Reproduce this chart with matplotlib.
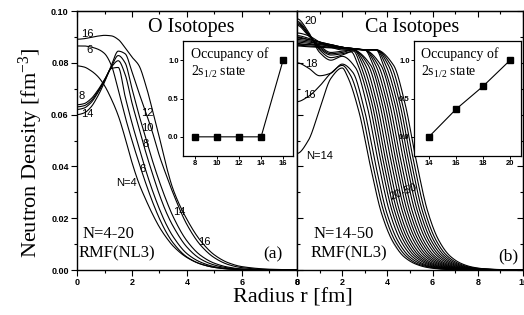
import numpy as np
import matplotlib
matplotlib.use("Agg")
import matplotlib.pyplot as plt
from matplotlib.ticker import MultipleLocator, FormatStrFormatter

plt.rcParams['font.family'] = ['Liberation Serif', 'DejaVu Serif']
plt.rcParams['mathtext.fontset'] = 'custom'
plt.rcParams['mathtext.rm'] = 'Liberation Serif'
plt.rcParams['mathtext.it'] = 'Liberation Serif:italic'

# ---------------- O isotopes (panel a) ----------------
o_r = [0, 0.25, 0.5, 0.75, 1.0, 1.25, 1.5, 1.75, 2.0, 2.25, 2.5, 2.75, 3.0, 3.25, 3.5,
       4.0, 4.5, 5.0, 5.5, 6.0, 7.0, 8.0]
o_N = [4, 6, 8, 10, 12, 14, 16]
o_rho4 = [0.0788, 0.0784, 0.0770, 0.0748, 0.0712, 0.0660, 0.0596, 0.0510, 0.0415, 0.0335, 0.0272, 0.0215, 0.0165, 0.0125, 0.0092,
          0.0048, 0.0023, 0.0010, 0.0004, 0.00015, 0.00002, 0.0]
o_rho6 = [0.0865, 0.0865, 0.0861, 0.0853, 0.0836, 0.0790, 0.0695, 0.0592, 0.0500, 0.0415, 0.0335, 0.0262, 0.0198, 0.0145, 0.0104,
          0.0050, 0.0023, 0.0010, 0.0004, 0.00015, 0.00002, 0.0]
o_rho8 = [0.0638, 0.0642, 0.0660, 0.0693, 0.0735, 0.0778, 0.0782, 0.0670, 0.0567, 0.0475, 0.0385, 0.0305, 0.0235, 0.0175, 0.0128,
          0.0063, 0.0030, 0.0013, 0.0005, 0.0002, 0.00003, 0.0]
o_rho10 = [0.0630, 0.0634, 0.0652, 0.0688, 0.0733, 0.0783, 0.0808, 0.0755, 0.0645, 0.0550, 0.0455, 0.0370, 0.0290, 0.0222, 0.0168,
           0.0088, 0.0042, 0.0019, 0.0008, 0.0003, 0.00005, 0.0]
o_rho12 = [0.0620, 0.0625, 0.0645, 0.0683, 0.0730, 0.0785, 0.0828, 0.0800, 0.0700, 0.0600, 0.0510, 0.0420, 0.0340, 0.0268, 0.0205,
           0.0112, 0.0056, 0.0026, 0.0011, 0.0004, 0.00006, 0.0]
o_rho14 = [0.0600, 0.0606, 0.0628, 0.0670, 0.0725, 0.0790, 0.0845, 0.0835, 0.0765, 0.0685, 0.0610, 0.0530, 0.0440, 0.0365, 0.0295,
           0.0175, 0.0095, 0.0047, 0.0021, 0.0009, 0.00015, 0.0]
o_rho16 = [0.0891, 0.0893, 0.0898, 0.0903, 0.0906, 0.0904, 0.0890, 0.0858, 0.0822, 0.0790, 0.0714, 0.0615, 0.0510, 0.0400, 0.0310,
           0.0195, 0.0112, 0.0058, 0.0028, 0.0013, 0.0003, 0.00005]
o_rho = [o_rho4, o_rho6, o_rho8, o_rho10, o_rho12, o_rho14, o_rho16]

o_occ_N = [8, 10, 12, 14, 16]
o_occ = [0.0, 0.0, 0.0, 0.0, 1.0]

o_labels = ['16', '6', '8', '14', '12', '10', '8', '6', 'N=4', '14', '16']
o_label_r = [0.38, 0.45, 0.16, 0.38, 2.57, 2.57, 2.48, 2.37, 1.81, 3.73, 4.64]
o_label_rho = [0.0910, 0.0848, 0.0670, 0.0604, 0.0608, 0.0550, 0.0485, 0.0390, 0.0337, 0.0225, 0.0110]

# ---------------- Ca isotopes (panel b) ----------------
ca_N = [14, 16, 18, 20, 22, 24, 26, 28, 30, 32, 34, 36, 38, 40, 42, 44, 46, 48, 50]
ca_r = [
    [0, 0.5, 1.0, 1.5, 2.0, 2.25, 2.75, 3.25, 3.75, 4.25, 4.75, 5.25, 5.75, 6.25, 7.25, 10],
    [0, 0.5, 1.0, 1.5, 2.0, 2.36, 2.86, 3.36, 3.86, 4.36, 4.86, 5.36, 5.86, 6.36, 7.36, 10],
    [0, 0.5, 1.0, 1.5, 2.0, 2.47, 2.97, 3.47, 3.97, 4.47, 4.97, 5.47, 5.97, 6.47, 7.47, 10],
    [0, 0.5, 1.0, 1.5, 2.0, 2.59, 3.09, 3.59, 4.09, 4.59, 5.09, 5.59, 6.09, 6.59, 7.59, 10],
    [0, 0.5, 1.0, 1.5, 2.0, 2.4, 2.70, 3.20, 3.70, 4.20, 4.70, 5.20, 5.70, 6.20, 6.70, 7.70, 10],
    [0, 0.5, 1.0, 1.5, 2.0, 2.5, 2.81, 3.31, 3.81, 4.31, 4.81, 5.31, 5.81, 6.31, 6.81, 7.81, 10],
    [0, 0.5, 1.0, 1.5, 2.0, 2.5, 2.92, 3.42, 3.92, 4.42, 4.92, 5.42, 5.92, 6.42, 6.92, 7.92, 10],
    [0, 0.5, 1.0, 1.5, 2.0, 2.5, 3.03, 3.53, 4.03, 4.53, 5.03, 5.53, 6.03, 6.53, 7.03, 8.03, 10],
    [0, 0.5, 1.0, 1.5, 2.0, 2.5, 3.15, 3.65, 4.15, 4.65, 5.15, 5.65, 6.15, 6.65, 7.15, 8.15, 10],
    [0, 0.5, 1.0, 1.5, 2.0, 2.5, 3.26, 3.76, 4.26, 4.76, 5.26, 5.76, 6.26, 6.76, 7.26, 8.26, 10],
    [0, 0.5, 1.0, 1.5, 2.0, 2.5, 3.0, 3.37, 3.87, 4.37, 4.87, 5.37, 5.87, 6.37, 6.87, 7.37, 8.37, 10],
    [0, 0.5, 1.0, 1.5, 2.0, 2.5, 3.0, 3.48, 3.98, 4.48, 4.98, 5.48, 5.98, 6.48, 6.98, 7.48, 8.48, 10],
    [0, 0.5, 1.0, 1.5, 2.0, 2.5, 3.0, 3.59, 4.09, 4.59, 5.09, 5.59, 6.09, 6.59, 7.09, 7.59, 8.59, 10],
    [0, 0.5, 1.0, 1.5, 2.0, 2.5, 3.0, 3.71, 4.21, 4.71, 5.21, 5.71, 6.21, 6.71, 7.21, 7.71, 8.71, 10],
    [0, 0.5, 1.0, 1.5, 2.0, 2.5, 3.0, 3.5, 3.82, 4.32, 4.82, 5.32, 5.82, 6.32, 6.82, 7.32, 7.82, 8.82, 10],
    [0, 0.5, 1.0, 1.5, 2.0, 2.5, 3.0, 3.5, 3.93, 4.43, 4.93, 5.43, 5.93, 6.43, 6.93, 7.43, 7.93, 8.93, 10],
    [0, 0.5, 1.0, 1.5, 2.0, 2.5, 3.0, 3.5, 4.04, 4.54, 5.04, 5.54, 6.04, 6.54, 7.04, 7.54, 8.04, 9.04, 10],
    [0, 0.5, 1.0, 1.5, 2.0, 2.5, 3.0, 3.5, 4.15, 4.65, 5.15, 5.65, 6.15, 6.65, 7.15, 7.65, 8.15, 9.15, 10],
    [0, 0.5, 1.0, 1.5, 2.0, 2.5, 3.0, 3.5, 4.27, 4.77, 5.27, 5.77, 6.27, 6.77, 7.27, 7.77, 8.27, 9.27, 10],
]
ca_rho = [
    [0.045, 0.050, 0.062, 0.074, 0.078, 0.0744, 0.0608, 0.0400, 0.0216, 0.0108, 0.0050, 0.0023, 0.0010, 0.00045, 0.00008, 0.0],
    [0.065, 0.067, 0.071, 0.076, 0.079, 0.0753, 0.0616, 0.0405, 0.0219, 0.0109, 0.0051, 0.0023, 0.0011, 0.00045, 0.00008, 0.0],
    [0.080, 0.078, 0.075, 0.076, 0.0795, 0.0763, 0.0623, 0.0410, 0.0221, 0.0111, 0.0052, 0.0024, 0.0011, 0.00046, 0.00008, 0.0],
    [0.097, 0.092, 0.084, 0.081, 0.0825, 0.0781, 0.0638, 0.0420, 0.0227, 0.0113, 0.0053, 0.0024, 0.0011, 0.00047, 0.00008, 0.0],
    [0.096, 0.0915, 0.085, 0.082, 0.083, 0.0842, 0.0791, 0.0646, 0.0425, 0.0230, 0.0115, 0.0054, 0.0025, 0.0011, 0.00048, 0.00009, 0.0],
    [0.0955, 0.091, 0.0855, 0.083, 0.0835, 0.0845, 0.0791, 0.0646, 0.0425, 0.0230, 0.0115, 0.0054, 0.0025, 0.0011, 0.00048, 0.00009, 0.0],
    [0.095, 0.091, 0.086, 0.0835, 0.084, 0.085, 0.0791, 0.0646, 0.0425, 0.0230, 0.0115, 0.0054, 0.0025, 0.0011, 0.00048, 0.00009, 0.0],
    [0.0945, 0.0905, 0.0865, 0.084, 0.0845, 0.085, 0.0791, 0.0646, 0.0425, 0.0230, 0.0115, 0.0054, 0.0025, 0.0011, 0.00048, 0.00009, 0.0],
    [0.0915, 0.0905, 0.088, 0.086, 0.085, 0.085, 0.0791, 0.0646, 0.0425, 0.0230, 0.0115, 0.0054, 0.0025, 0.0011, 0.00048, 0.00009, 0.0],
    [0.0905, 0.0895, 0.088, 0.0865, 0.0855, 0.085, 0.0791, 0.0646, 0.0425, 0.0230, 0.0115, 0.0054, 0.0025, 0.0011, 0.00048, 0.00009, 0.0],
    [0.090, 0.089, 0.088, 0.087, 0.086, 0.0852, 0.085, 0.0791, 0.0646, 0.0425, 0.0230, 0.0115, 0.0054, 0.0025, 0.0011, 0.00048, 0.00009, 0.0],
    [0.0895, 0.089, 0.088, 0.087, 0.086, 0.0853, 0.085, 0.0791, 0.0646, 0.0425, 0.0230, 0.0115, 0.0054, 0.0025, 0.0011, 0.00048, 0.00009, 0.0],
    [0.089, 0.0885, 0.0875, 0.087, 0.086, 0.0855, 0.085, 0.0791, 0.0646, 0.0425, 0.0230, 0.0115, 0.0054, 0.0025, 0.0011, 0.00048, 0.00009, 0.0],
    [0.0885, 0.088, 0.0875, 0.0865, 0.086, 0.0855, 0.085, 0.0791, 0.0646, 0.0425, 0.0230, 0.0115, 0.0054, 0.0025, 0.0011, 0.00048, 0.00009, 0.0],
    [0.088, 0.0875, 0.087, 0.0865, 0.086, 0.0855, 0.085, 0.085, 0.0791, 0.0646, 0.0425, 0.0230, 0.0115, 0.0054, 0.0025, 0.0011, 0.00048, 0.00009, 0.0],
    [0.0875, 0.087, 0.087, 0.0865, 0.086, 0.0855, 0.085, 0.085, 0.0791, 0.0646, 0.0425, 0.0230, 0.0115, 0.0054, 0.0025, 0.0011, 0.00048, 0.00009, 0.0],
    [0.087, 0.087, 0.0865, 0.086, 0.0858, 0.0855, 0.085, 0.085, 0.0791, 0.0646, 0.0425, 0.0230, 0.0115, 0.0054, 0.0025, 0.0011, 0.00048, 0.00009, 0.0],
    [0.0868, 0.0865, 0.0862, 0.086, 0.0857, 0.0853, 0.085, 0.085, 0.0791, 0.0646, 0.0425, 0.0230, 0.0115, 0.0054, 0.0025, 0.0011, 0.00048, 0.00009, 0.0],
    [0.0865, 0.0862, 0.086, 0.0858, 0.0855, 0.0852, 0.085, 0.085, 0.0791, 0.0646, 0.0425, 0.0230, 0.0115, 0.0054, 0.0025, 0.0011, 0.00048, 0.00009, 0.0],
]

ca_occ_N = [14, 16, 18, 20]
ca_occ = [0.0, 0.36, 0.66, 1.0]

ca_labels = ['20', '18', '16', 'N=14']
ca_label_r = [0.60, 0.63, 0.53, 0.98]
ca_label_rho = [0.0962, 0.0796, 0.0677, 0.0442]


def smooth(x, y, n=600):
    """Monotone cubic (PCHIP) drawing of a curve through the given points."""
    x = np.asarray(x, float)
    y = np.asarray(y, float)
    h = np.diff(x)
    d = np.diff(y) / h
    m = np.zeros_like(y)
    for k in range(1, len(x) - 1):
        if d[k - 1] * d[k] > 0:
            w1 = 2 * h[k] + h[k - 1]
            w2 = h[k] + 2 * h[k - 1]
            m[k] = (w1 + w2) / (w1 / d[k - 1] + w2 / d[k])
    m[0] = 0.0
    m[-1] = d[-1]
    xs = np.linspace(x[0], x[-1], n)
    i = np.clip(np.searchsorted(x, xs) - 1, 0, len(x) - 2)
    t = (xs - x[i]) / h[i]
    h00 = 2 * t**3 - 3 * t**2 + 1
    h10 = t**3 - 2 * t**2 + t
    h01 = -2 * t**3 + 3 * t**2
    h11 = t**3 - t**2
    ys = h00 * y[i] + h10 * h[i] * m[i] + h01 * y[i + 1] + h11 * h[i] * m[i + 1]
    return xs, ys


W, H = 524, 315
fig = plt.figure(figsize=(W / 100, H / 100), dpi=100)

axL = fig.add_axes([77 / W, 45 / H, 220 / W, 259 / H])
axR = fig.add_axes([297 / W, 45 / H, 226 / W, 259 / H])

tickfont = dict(family='Liberation Sans', weight='bold', size=6.5)

for ax, xmax in ((axL, 8), (axR, 10)):
    ax.set_xlim(0, xmax)
    ax.set_ylim(0, 0.10)
    ax.xaxis.set_major_locator(MultipleLocator(2))
    ax.xaxis.set_minor_locator(MultipleLocator(1))
    ax.yaxis.set_major_locator(MultipleLocator(0.02))
    ax.yaxis.set_minor_locator(MultipleLocator(0.01))
    ax.tick_params(axis='x', which='major', direction='out', length=4, width=0.8, pad=1.5)
    ax.tick_params(axis='x', which='minor', direction='out', length=2, width=0.8)
    for lab in ax.get_xticklabels():
        lab.set_fontproperties(tickfont)
    sec = ax.secondary_xaxis('top')
    sec.xaxis.set_major_locator(MultipleLocator(2))
    sec.xaxis.set_minor_locator(MultipleLocator(1))
    sec.tick_params(axis='x', which='major', direction='in', length=4, width=0.8, labeltop=False)
    sec.tick_params(axis='x', which='minor', direction='in', length=2, width=0.8)
    for sp in ax.spines.values():
        sp.set_linewidth(1.0)

axL.set_xticks([0, 2, 4, 6, 8])
axL.set_xticklabels(['0', '2', '4', '6', '8'], fontdict=tickfont)
axR.set_xticks([0, 2, 4, 6, 8, 10])
axR.set_xticklabels(['0', '2', '4', '6', '8', '10'], fontdict=tickfont)

axL.yaxis.set_major_formatter(FormatStrFormatter('%.2f'))
axL.tick_params(axis='y', which='major', direction='out', length=4, width=0.8, pad=2, right=False)
axL.tick_params(axis='y', which='minor', direction='out', length=2, width=0.8, right=False)
for lab in axL.get_yticklabels():
    lab.set_fontproperties(tickfont)

axR.tick_params(axis='y', which='major', direction='in', length=4, width=0.8, labelleft=False)
axR.tick_params(axis='y', which='minor', direction='in', length=2, width=0.8)
secR = axR.secondary_yaxis('right')
secR.yaxis.set_major_locator(MultipleLocator(0.02))
secR.yaxis.set_minor_locator(MultipleLocator(0.01))
secR.tick_params(axis='y', which='major', direction='in', length=4, width=0.8, labelright=False)
secR.tick_params(axis='y', which='minor', direction='in', length=2, width=0.8)

# curves
for rho in o_rho:
    xs, ys = smooth(o_r, rho)
    axL.plot(xs, ys, color='black', lw=0.8)
for r, rho in zip(ca_r, ca_rho):
    xs, ys = smooth(r, rho)
    axR.plot(xs, ys, color='black', lw=0.8)

labfont = dict(family='Liberation Sans', size=8)
for t, x, y in zip(o_labels, o_label_r, o_label_rho):
    axL.text(x, y, t, ha='center', va='center', **labfont)
for t, x, y in zip(ca_labels, ca_label_r, ca_label_rho):
    axR.text(x, y, t, ha='center', va='center', **labfont)
axR.text(4.7, 0.030, '20-50', ha='center', va='center', rotation=22, **labfont)

axL.text(0.518, 0.938, 'O Isotopes', transform=axL.transAxes, ha='center', va='center', fontsize=14.5)
axR.text(0.509, 0.938, 'Ca Isotopes', transform=axR.transAxes, ha='center', va='center', fontsize=14.5)
axL.text(0.027, 0.139, 'N=4-20', transform=axL.transAxes, ha='left', va='center', fontsize=12)
axL.text(0.005, 0.064, 'RMF(NL3)', transform=axL.transAxes, ha='left', va='center', fontsize=12)
axR.text(0.071, 0.139, 'N=14-50', transform=axR.transAxes, ha='left', va='center', fontsize=12)
axR.text(0.058, 0.064, 'RMF(NL3)', transform=axR.transAxes, ha='left', va='center', fontsize=12)
axL.text(0.891, 0.062, '(a)', transform=axL.transAxes, ha='center', va='center', fontsize=12.5)
axR.text(0.934, 0.054, '(b)', transform=axR.transAxes, ha='center', va='center', fontsize=12.5)

fig.text(293 / W, 1 - 298 / H, 'Radius r [fm]', ha='center', va='center', fontsize=16)
fig.text(31 / W, 1 - 153 / H, 'Neutron Density [fm$^{-3}$]', ha='center', va='center',
         rotation=90, fontsize=16)

# insets
insfont = dict(family='Liberation Sans', weight='bold', size=5.5)
for (x0, x1), xs_, ys_, xlim, xt in (
        ((183, 293), o_occ_N, o_occ, (6.9, 16.9), [8, 10, 12, 14, 16]),
        ((414, 521), ca_occ_N, ca_occ, (12.9, 20.8), [14, 16, 18, 20])):
    ins = fig.add_axes([x0 / W, (H - 156) / H, (x1 - x0) / W, 115 / H])
    ins.set_facecolor('white')
    ins.plot(xs_, ys_, color='black', lw=0.8, marker='s', ms=4.3, mfc='black', mec='black')
    ins.set_xlim(*xlim)
    ins.set_ylim(-0.25, 1.25)
    ins.set_xticks(xt)
    ins.set_xticklabels([str(v) for v in xt], fontdict=insfont)
    ins.set_yticks([0.0, 0.5, 1.0])
    ins.set_yticklabels(['0.0', '0.5', '1.0'], fontdict=insfont)
    ins.tick_params(direction='out', length=2, width=0.7, pad=1)
    for sp in ins.spines.values():
        sp.set_linewidth(0.9)
    ins.text(0.07, 0.95, 'Occupancy of', transform=ins.transAxes, ha='left', va='top', fontsize=10)
    ins.text(0.07, 0.80, '2s$_{1/2}$ state', transform=ins.transAxes, ha='left', va='top', fontsize=10)

fig.savefig('out.png', dpi=100)
